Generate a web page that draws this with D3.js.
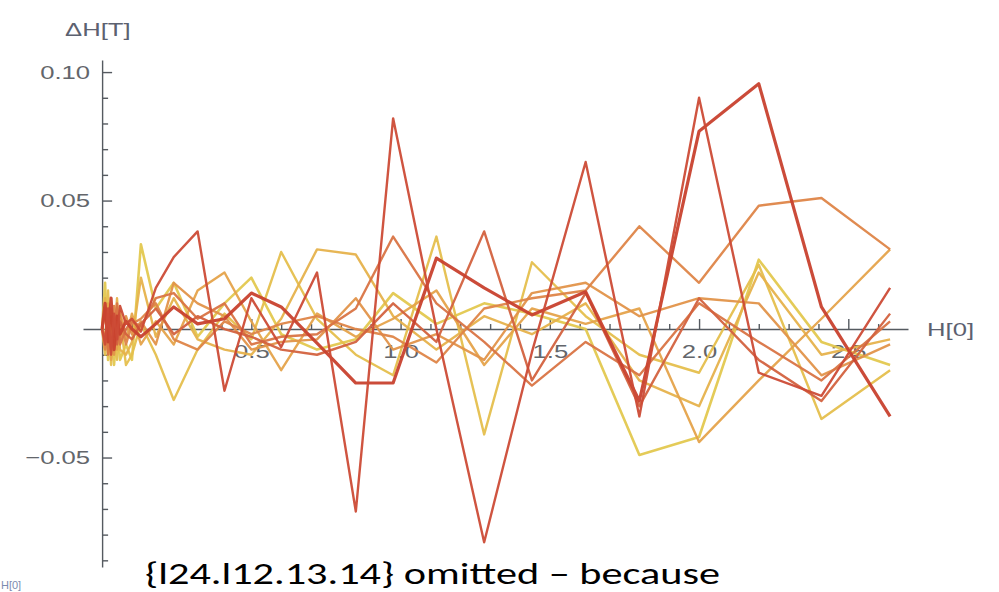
<!DOCTYPE html>
<html>
<head>
<meta charset="utf-8">
<script src="https://cdn.jsdelivr.net/npm/d3@7/dist/d3.min.js"></script>
<style>
  html, body { margin: 0; padding: 0; background: #fff; }
  svg { display: block; }
</style>
</head>
<body>
<svg id="chart" width="999" height="592"></svg>
<script>
// Applied field H[0] (T) at which each deviation was sampled
const fields = [0, 0.01, 0.02, 0.03, 0.04, 0.05, 0.06, 0.08, 0.10, 0.13, 0.18, 0.24, 0.32, 0.41,
                0.50, 0.60, 0.72, 0.85, 0.975, 1.12, 1.28, 1.44, 1.62, 1.80, 2.0, 2.2, 2.41, 2.64];

// Field deviation ΔH (T), one run per array, cool (yellow) to hot (red)
const run0 = [0, 0.018, -0.012, 0.006, -0.014, 0.002, -0.012, -0.006, -0.012, 0.033, 0.008, 0.018, -0.003, 0.010,
              0.020, -0.002, -0.008, -0.004, 0.014, 0.002, 0.010, 0.006, 0.000, -0.049, -0.042, 0.027, -0.005, -0.014];
const run1 = [0, -0.010, 0.015, -0.014, 0.002, -0.012, 0.004, -0.014, -0.010, 0.002, -0.010, -0.0276, -0.008, 0.006,
              -0.004, 0.030, 0.004, -0.010, -0.018, 0.036, -0.041, 0.026, 0.005, -0.010, -0.017, 0.025, -0.035, -0.016];
const run2 = [0, 0.012, -0.008, 0.008, -0.006, 0.012, -0.008, -0.010, -0.005, 0.020, -0.003, 0.012, -0.004, -0.008,
              -0.010, 0.004, 0.031, 0.029, 0.005, -0.008, 0.005, -0.002, 0.010, -0.020, -0.030, 0.022, -0.010, -0.004];
const run3 = [0, -0.003, 0.010, -0.012, 0.005, -0.008, 0.007, -0.004, 0.006, -0.006, 0.003, -0.006, 0.015, 0.022,
              0.003, -0.016, 0.006, -0.003, 0.004, 0.015, -0.014, 0.008, 0.002, 0.008, -0.044, -0.020, 0.004, 0.031];
const run4 = [0, 0.006, -0.006, 0.003, -0.010, 0.006, -0.004, 0.005, -0.002, 0.003, -0.006, 0.018, 0.010, 0.005,
              -0.008, -0.005, -0.004, 0.012, -0.008, -0.002, -0.012, 0.014, 0.018, 0.005, 0.012, 0.010, -0.018, -0.006];
const run5 = [0, -0.008, 0.004, -0.005, 0.009, -0.003, 0.005, -0.006, 0.002, 0.004, 0.010, -0.004, -0.008, 0.003,
              -0.002, 0.002, 0.005, 0.000, -0.003, -0.013, 0.008, 0.012, 0.015, 0.040, 0.018, 0.048, 0.051, 0.031];
const run6 = [0, 0.008, -0.010, 0.005, -0.003, 0.010, -0.006, 0.000, 0.003, 0.001, 0.012, 0.014, 0.004, 0.010,
              -0.006, -0.003, -0.002, 0.008, 0.036, 0.010, -0.005, -0.022, -0.005, -0.018, 0.010, -0.005, -0.020, 0.003];
const run7 = [0, -0.004, 0.006, -0.008, 0.004, -0.006, 0.003, -0.002, -0.004, 0.002, 0.008, -0.002, 0.005, 0.000,
              -0.003, -0.008, -0.010, -0.005, 0.010, -0.005, 0.038, -0.020, 0.014, -0.030, 0.012, -0.012, -0.028, 0.006];
const run8 = [0, 0.010, -0.005, 0.012, -0.008, 0.005, -0.002, 0.003, 0.000, -0.003, 0.002, 0.0086, 0.002, 0.004,
              0.014, 0.0086, -0.0055, -0.021, -0.021, 0.0276, 0.016, 0.0055, 0.0145, -0.028, 0.077, 0.0955, 0.0086, -0.034];
const run9 = [0, -0.006, 0.008, -0.010, 0.006, -0.004, 0.009, 0.002, 0.004, -0.001, 0.016, 0.028, 0.038, -0.024,
              0.012, -0.007, 0.022, -0.071, 0.082, 0.000, -0.083, -0.009, 0.065, -0.034, 0.090, -0.017, -0.026, 0.016];

const runs = [run0, run1, run2, run3, run4, run5, run6, run7, run8, run9];
const runColors = ["#e3c84f", "#e5bf4d", "#e6b24c", "#e5a34b", "#e2944a",
                   "#de8548", "#d97444", "#d3623f", "#c8412e", "#cc4b36"];
const runWidths = [2.6, 2.4, 2.4, 2.4, 2.4, 2.4, 2.4, 2.4, 3.2, 2.4];

// Axis ticks
const xMajor = [0.5, 1.0, 1.5, 2.0, 2.5];
const xMinor = [0.1, 0.2, 0.3, 0.4, 0.6, 0.7, 0.8, 0.9, 1.1, 1.2, 1.3, 1.4, 1.6, 1.7, 1.8, 1.9,
                2.1, 2.2, 2.3, 2.4, 2.6];
const yMajor = [-0.05, 0.05, 0.10];
const yMinor = [-0.09, -0.08, -0.07, -0.06, -0.04, -0.03, -0.02, -0.01, 0.01, 0.02, 0.03, 0.04,
                0.06, 0.07, 0.08, 0.09];

const xTitle = "H[0]";
const yTitle = "ΔH[T]";
const note = "{l24.l12.13.14} omitted – because";

const svg = d3.select("#chart");
const axisColor = "#555a60";
const labelColor = "#63666b";
const stretch = 1.35;

const x = d3.scaleLinear().domain([-0.064, 2.70]).range([83, 908]);
const y = d3.scaleLinear().domain([-0.0926, 0.1047]).range([567, 60]);

const x0 = x(0), y0 = y(0);

// x axis: ticks point up, labels below
const gx = svg.append("g").attr("transform", `translate(0,${y0})`);
gx.call(d3.axisBottom(x).tickValues(xMajor).tickSizeInner(-10).tickSizeOuter(0)
        .tickPadding(15).tickFormat(d3.format(".1f")));
const gxm = svg.append("g").attr("transform", `translate(0,${y0})`);
gxm.call(d3.axisBottom(x).tickValues(xMinor).tickSizeInner(-5).tickSizeOuter(0).tickFormat(""));
gxm.select(".domain").remove();

// y axis: ticks point right, labels left
const gy = svg.append("g").attr("transform", `translate(${x0},0)`);
gy.call(d3.axisLeft(y).tickValues(yMajor).tickSizeInner(-10).tickSizeOuter(0)
        .tickPadding(12).tickFormat(d3.format(".2f")));
const gym = svg.append("g").attr("transform", `translate(${x0},0)`);
gym.call(d3.axisLeft(y).tickValues(yMinor).tickSizeInner(-6).tickSizeOuter(0).tickFormat(""));
gym.select(".domain").remove();

svg.selectAll(".domain, .tick line").attr("stroke", axisColor).attr("stroke-width", 1.4);

// widen the tick labels horizontally
gx.selectAll(".tick text")
  .attr("font-family", "Liberation Sans, Arial, sans-serif").attr("font-size", 19)
  .attr("fill", labelColor)
  .attr("transform", `scale(${stretch},1)`);
gy.selectAll(".tick text")
  .attr("font-family", "Liberation Sans, Arial, sans-serif").attr("font-size", 19)
  .attr("fill", labelColor)
  .attr("x", 0)
  .attr("transform", `translate(-12,0) scale(${stretch},1)`);

// axis titles
svg.append("text")
  .attr("transform", `translate(927,336) scale(${stretch},1)`)
  .attr("font-family", "Liberation Sans, Arial, sans-serif").attr("font-size", 19)
  .attr("fill", "#5c6170").text(xTitle);
svg.append("text")
  .attr("transform", `translate(65,36) scale(${stretch},1)`)
  .attr("font-family", "Liberation Sans, Arial, sans-serif").attr("font-size", 19)
  .attr("fill", "#5c6170").text(yTitle);

// data lines
const line = d3.line().x((d, i) => x(fields[i])).y(d => y(d));
svg.append("g").selectAll("path").data(runs).join("path")
  .attr("d", line)
  .attr("fill", "none")
  .attr("stroke", (d, i) => runColors[i])
  .attr("stroke-width", (d, i) => runWidths[i])
  .attr("stroke-linejoin", "round")
  .attr("stroke-opacity", 0.95);

// caption below the plot
svg.append("text")
  .attr("x", 145).attr("y", 584)
  .attr("font-family", "Carlito, Lato, 'Open Sans', sans-serif").attr("font-size", 30)
  .attr("fill", "#000")
  .attr("textLength", 575).attr("lengthAdjust", "spacingAndGlyphs")
  .text(note);

// small axis label of a neighbouring panel at the lower left edge
svg.append("text")
  .attr("x", 1).attr("y", 589)
  .attr("font-family", "Liberation Sans, Arial, sans-serif").attr("font-size", 11)
  .attr("fill", "#7d8bb0").text(xTitle);
</script>
</body>
</html>
